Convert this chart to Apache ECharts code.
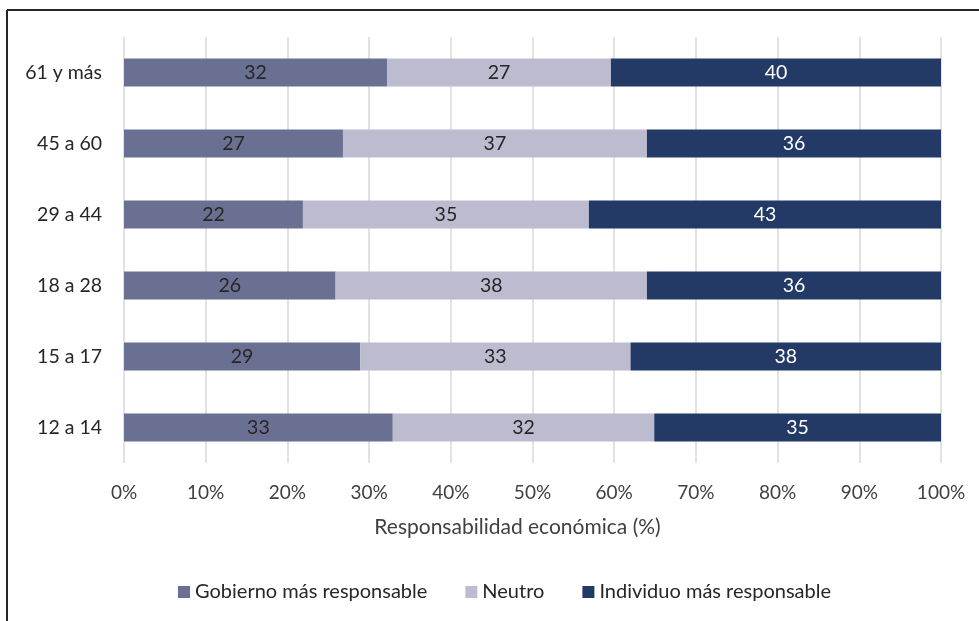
<!DOCTYPE html>
<html>
<head>
<meta charset="utf-8">
<script src="https://cdn.jsdelivr.net/npm/echarts@6/dist/echarts.min.js"></script>
<style>
html,body{margin:0;padding:0;background:#fff;}
#chart{width:979px;height:621px;}
</style>
</head>
<body>
<div id="chart"></div>
<script>
// Age groups (bottom to top)
const categories = ['12 a 14', '15 a 17', '18 a 28', '29 a 44', '45 a 60', '61 y más'];
const seriesNames = ['Gobierno más responsable', 'Neutro', 'Individuo más responsable'];
const gobierno  = [32.9, 28.9, 25.9, 21.9, 26.8, 32.2];
const neutro    = [32.0, 33.1, 38.1, 35.0, 37.2, 27.4];
const individuo = [35.1, 38.0, 36.0, 43.1, 36.0, 40.4];
const xTicks = [0, 10, 20, 30, 40, 50, 60, 70, 80, 90, 100];

const FONT = 'Lato';
const colors = ['#6a7091', '#bdbbcf', '#233a66'];
const labelColors = ['#262626', '#262626', '#ffffff'];
const values = [gobierno, neutro, individuo];

const chart = echarts.init(document.getElementById('chart'));
chart.setOption({
  animation: false,
  textStyle: { fontFamily: FONT },
  grid: { left: 124, right: 38, top: 37, bottom: 158, containLabel: false },
  xAxis: {
    type: 'value', min: xTicks[0], max: xTicks[xTicks.length - 1], interval: 10,
    axisLine: { show: false }, axisTick: { show: false },
    splitLine: { show: true, lineStyle: { color: '#d9d9d9', width: 1.5 } },
    axisLabel: { formatter: '{value}%', color: '#404040', fontSize: 19, fontFamily: FONT, margin: 20 },
    name: 'Responsabilidad económica (%)', nameLocation: 'middle', nameGap: 54,
    nameTextStyle: { color: '#404040', fontSize: 21, fontFamily: FONT, padding: [0, 30, 0, 0] }
  },
  yAxis: {
    type: 'category', data: categories,
    axisLine: { show: false }, axisTick: { show: false },
    axisLabel: { color: '#262626', fontSize: 19.5, fontFamily: FONT, margin: 22 }
  },
  legend: {
    data: seriesNames, bottom: 14, left: 173,
    itemWidth: 12, itemHeight: 12, itemGap: 38, icon: 'rect',
    textStyle: { color: '#262626', fontSize: 20, fontFamily: FONT }
  },
  series: seriesNames.map((n, i) => ({
    name: n, type: 'bar', stack: 'total', data: values[i], barWidth: 28,
    itemStyle: { color: colors[i] },
    label: { show: true, position: 'inside', color: labelColors[i], fontSize: 19.5, fontFamily: FONT,
      formatter: p => Math.round(p.value) }
  })),
  graphic: [
    { type: 'line', shape: { x1: 7, y1: 10, x2: 979, y2: 10 }, style: { stroke: '#262626', lineWidth: 2 } },
    { type: 'line', shape: { x1: 7, y1: 10, x2: 7, y2: 621 }, style: { stroke: '#262626', lineWidth: 2 } }
  ]
});
</script>
</body>
</html>
